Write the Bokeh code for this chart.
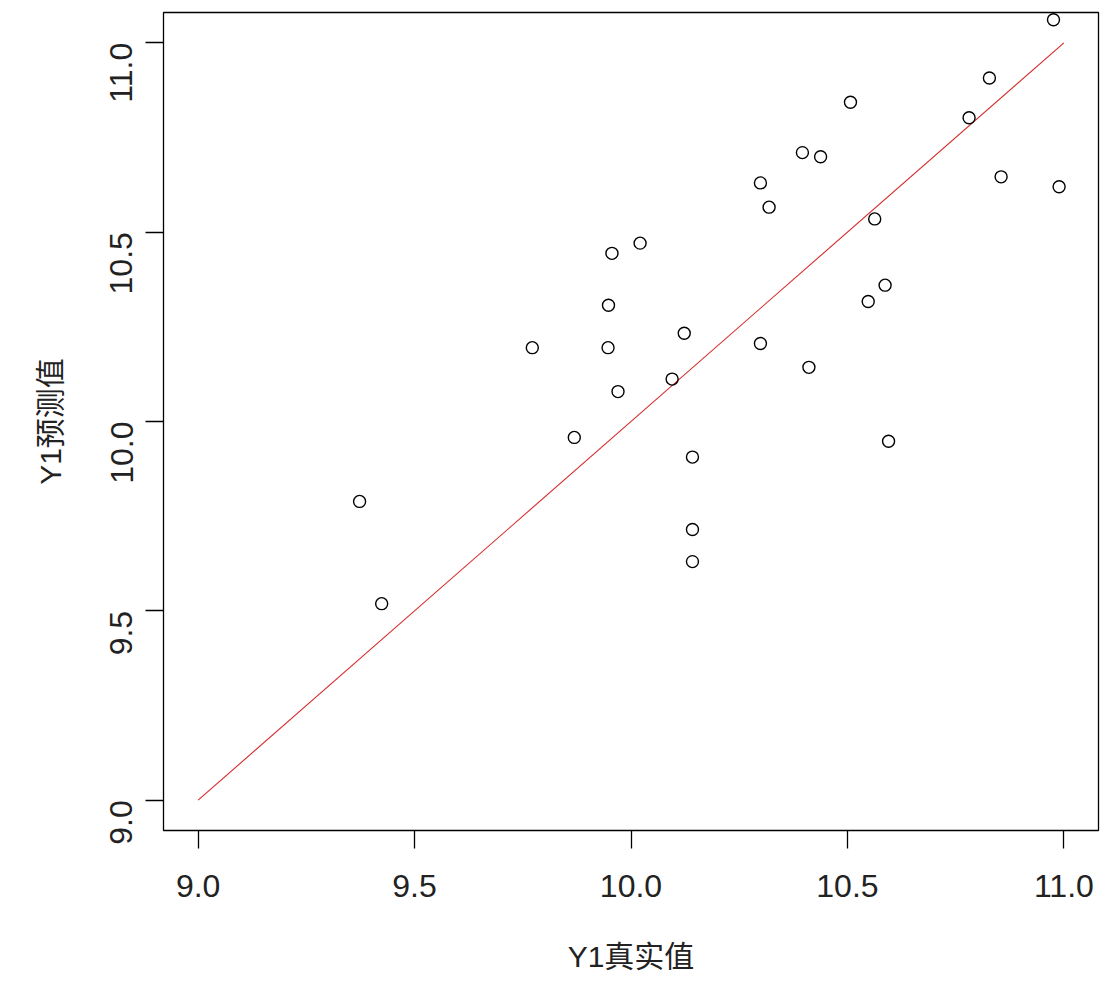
import math
from bokeh.plotting import figure
from bokeh.models import Range1d, FixedTicker, PrintfTickFormatter
from bokeh.embed import file_html
from bokeh.resources import INLINE

# Data
y1_true = [10.976, 10.828, 10.507, 10.781, 10.396, 10.438, 10.855, 10.989, 10.299, 10.319,
           10.563, 10.021, 9.956, 9.948, 10.587, 10.548, 10.123, 9.772, 9.947, 10.299,
           10.411, 10.095, 9.970, 9.869, 10.595, 10.142, 9.373, 10.142, 10.142, 9.424]
y1_pred = [11.061, 10.907, 10.843, 10.802, 10.710, 10.699, 10.646, 10.620, 10.630, 10.566,
           10.535, 10.471, 10.444, 10.307, 10.360, 10.317, 10.233, 10.195, 10.195, 10.206,
           10.143, 10.112, 10.079, 9.958, 9.948, 9.906, 9.789, 9.715, 9.630, 9.519]
ref_x = [9.0, 11.0]
ref_y = [9.0, 11.0]
tick_values = [9.0, 9.5, 10.0, 10.5, 11.0]
x_title = "Y1真实值"
y_title = "Y1预测值"

FONT = "Liberation Sans, Arial, Noto Sans CJK SC"
TXT = "#222222"

p = figure(width=1101, height=994, output_backend="svg", toolbar_location=None,
           x_range=Range1d(8.92, 11.08), y_range=Range1d(8.92, 11.08),
           min_border_left=163, min_border_right=3, min_border_top=12, min_border_bottom=164)
p.background_fill_color = "white"
p.border_fill_color = "white"
p.grid.visible = False
p.outline_line_color = "black"
p.outline_line_width = 1.3

p.line(ref_x, ref_y, line_color="#d42a2a", line_width=1.1)
p.scatter(y1_true, y1_pred, size=12, marker="circle", fill_color=None,
          line_color="black", line_width=1.4)

for ax in (p.xaxis[0], p.yaxis[0]):
    ax.ticker = FixedTicker(ticks=tick_values)
    ax.formatter = PrintfTickFormatter(format="%.1f")
    ax.axis_line_color = None
    ax.major_tick_line_color = "black"
    ax.major_tick_line_width = 1.3
    ax.major_tick_in = 0
    ax.major_tick_out = 18
    ax.minor_tick_line_color = None
    ax.major_label_text_font = FONT
    ax.major_label_text_font_size = "32px"
    ax.major_label_text_color = TXT
    ax.axis_label_text_font = FONT
    ax.axis_label_text_font_size = "30px"
    ax.axis_label_text_font_style = "normal"
    ax.axis_label_text_color = TXT

p.xaxis[0].axis_label = x_title
p.yaxis[0].axis_label = y_title
p.xaxis[0].major_label_standoff = 26
p.yaxis[0].major_label_standoff = 24
p.yaxis[0].major_label_orientation = math.pi / 2
p.xaxis[0].axis_label_standoff = 40
p.yaxis[0].axis_label_standoff = 30

open("out.html", "w").write(file_html(p, INLINE))
